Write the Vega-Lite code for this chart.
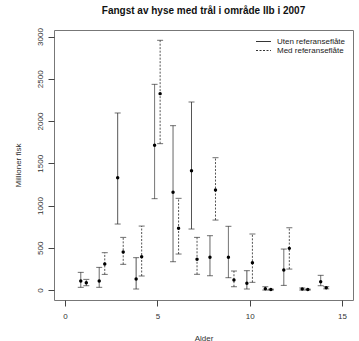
{
  "$schema": "https://vega.github.io/schema/vega-lite/v6.json",
  "width": 299,
  "height": 270,
  "autosize": {"type": "none"},
  "padding": {"left": 54, "top": 30, "right": 6, "bottom": 41},
  "background": "white",
  "config": {
    "font": "Liberation Sans",
    "view": {"stroke": "#777", "strokeWidth": 1},
    "axis": {"grid": false, "domain": false, "tickColor": "#444", "tickSize": 6, "labelColor": "#333", "labelFontSize": 8, "titleFontSize": 8, "titleFontWeight": "normal", "titleColor": "#333"}
  },
  "title": {"text": "Fangst av hyse med trål i område IIb i 2007", "fontSize": 10, "fontWeight": "bold", "color": "#111", "offset": 12, "anchor": "middle"},
  "data": {"values": [
    {"alder": 1, "pos": 0.85, "serie": "Uten referanseflåte", "mid": 106, "lo": 32, "hi": 209},
    {"alder": 1, "pos": 1.15, "serie": "Med referanseflåte", "mid": 87, "lo": 51, "hi": 126},
    {"alder": 2, "pos": 1.85, "serie": "Uten referanseflåte", "mid": 106, "lo": 32, "hi": 268},
    {"alder": 2, "pos": 2.15, "serie": "Med referanseflåte", "mid": 308, "lo": 185, "hi": 442},
    {"alder": 3, "pos": 2.85, "serie": "Uten referanseflåte", "mid": 1329, "lo": 781, "hi": 2095},
    {"alder": 3, "pos": 3.15, "serie": "Med referanseflåte", "mid": 450, "lo": 304, "hi": 623},
    {"alder": 4, "pos": 3.85, "serie": "Uten referanseflåte", "mid": 130, "lo": 12, "hi": 383},
    {"alder": 4, "pos": 4.15, "serie": "Med referanseflåte", "mid": 394, "lo": 166, "hi": 757},
    {"alder": 5, "pos": 4.85, "serie": "Uten referanseflåte", "mid": 1712, "lo": 1081, "hi": 2434},
    {"alder": 5, "pos": 5.15, "serie": "Med referanseflåte", "mid": 2324, "lo": 1732, "hi": 2955},
    {"alder": 6, "pos": 5.85, "serie": "Uten referanseflåte", "mid": 1156, "lo": 335, "hi": 1945},
    {"alder": 6, "pos": 6.15, "serie": "Med referanseflåte", "mid": 730, "lo": 426, "hi": 1085},
    {"alder": 7, "pos": 6.85, "serie": "Uten referanseflåte", "mid": 1412, "lo": 722, "hi": 2225},
    {"alder": 7, "pos": 7.15, "serie": "Med referanseflåte", "mid": 363, "lo": 186, "hi": 623},
    {"alder": 8, "pos": 7.85, "serie": "Uten referanseflåte", "mid": 387, "lo": 169, "hi": 643},
    {"alder": 8, "pos": 8.15, "serie": "Med referanseflåte", "mid": 1183, "lo": 828, "hi": 1566},
    {"alder": 9, "pos": 8.85, "serie": "Uten referanseflåte", "mid": 387, "lo": 146, "hi": 754},
    {"alder": 9, "pos": 9.15, "serie": "Med referanseflåte", "mid": 118, "lo": 39, "hi": 225},
    {"alder": 10, "pos": 9.85, "serie": "Uten referanseflåte", "mid": 79, "lo": 12, "hi": 229},
    {"alder": 10, "pos": 10.15, "serie": "Med referanseflåte", "mid": 323, "lo": 91, "hi": 663},
    {"alder": 11, "pos": 10.85, "serie": "Uten referanseflåte", "mid": 14, "lo": 0, "hi": 39},
    {"alder": 11, "pos": 11.15, "serie": "Med referanseflåte", "mid": 5, "lo": 0, "hi": 10},
    {"alder": 12, "pos": 11.85, "serie": "Uten referanseflåte", "mid": 237, "lo": 55, "hi": 485},
    {"alder": 12, "pos": 12.15, "serie": "Med referanseflåte", "mid": 493, "lo": 248, "hi": 737},
    {"alder": 13, "pos": 12.85, "serie": "Uten referanseflåte", "mid": 12, "lo": 0, "hi": 24},
    {"alder": 13, "pos": 13.15, "serie": "Med referanseflåte", "mid": 5, "lo": 0, "hi": 10},
    {"alder": 14, "pos": 13.85, "serie": "Uten referanseflåte", "mid": 99, "lo": 51, "hi": 174},
    {"alder": 14, "pos": 14.15, "serie": "Med referanseflåte", "mid": 27, "lo": 14, "hi": 39}
  ]},
  "encoding": {
    "x": {"field": "pos", "type": "quantitative", "scale": {"domain": [-0.6, 15.6], "nice": false, "zero": false},
      "axis": {"values": [0, 5, 10, 15], "format": "d", "title": "Alder", "labelPadding": 6, "titleY": 34}}
  },
  "layer": [
    {
      "mark": {"type": "rule", "strokeWidth": 1, "color": "#555"},
      "encoding": {
        "y": {"field": "lo", "type": "quantitative", "scale": {"domain": [-118, 3077], "nice": false, "zero": false},
          "axis": {"values": [0, 500, 1000, 1500, 2000, 2500, 3000], "format": "d", "title": "Millioner fisk", "labelAngle": -90, "labelAlign": "center", "labelBaseline": "bottom", "labelPadding": 4, "titleX": -32}},
        "y2": {"field": "hi"},
        "strokeDash": {"field": "serie", "type": "nominal",
          "scale": {"domain": ["Uten referanseflåte", "Med referanseflåte"], "range": [[1, 0], [2, 1.5]]},
          "legend": {"title": null, "orient": "top-right", "symbolType": "M-2,0H2", "symbolSize": 56, "symbolStrokeWidth": 1, "symbolStrokeColor": "#333", "symbolFillColor": "transparent", "labelFontSize": 8, "labelColor": "#222", "labelOffset": 9, "rowPadding": 0, "offset": 5, "padding": 2}}
      }
    },
    {
      "mark": {"type": "tick", "orient": "horizontal", "size": 6, "thickness": 1, "color": "#333"},
      "encoding": {"y": {"field": "hi", "type": "quantitative"},
        "strokeDash": {"field": "serie", "type": "nominal", "legend": null}}
    },
    {
      "mark": {"type": "tick", "orient": "horizontal", "size": 6, "thickness": 1, "color": "#333"},
      "encoding": {"y": {"field": "lo", "type": "quantitative"},
        "strokeDash": {"field": "serie", "type": "nominal", "legend": null}}
    },
    {
      "mark": {"type": "circle", "size": 12, "color": "black", "opacity": 1},
      "encoding": {"y": {"field": "mid", "type": "quantitative"}}
    }
  ]
}
